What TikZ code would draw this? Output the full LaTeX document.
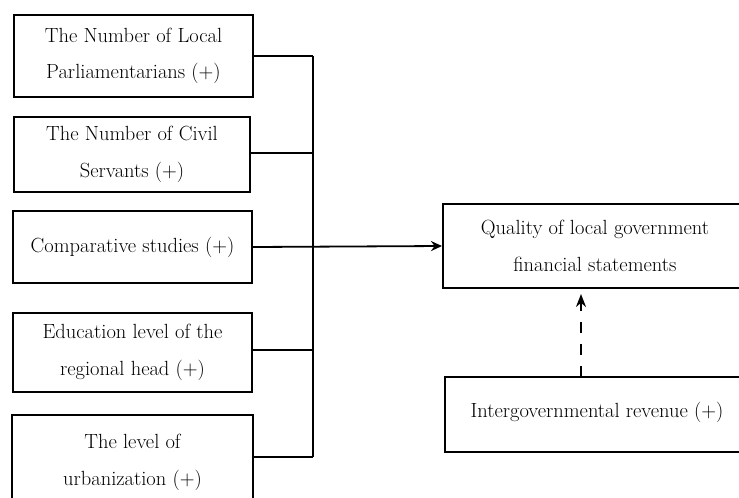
\documentclass[tikz,border=0pt]{standalone}
\usetikzlibrary{arrows.meta}
\begin{document}
\begin{tikzpicture}[x=1pt,y=-1pt,
  box/.style={draw,line width=2pt,align=center,inner sep=0pt,
    font=\fontsize{20.5}{36.5}\selectfont},
  conn/.style={line width=1.8pt},
  arr/.style={line width=1.8pt,-{Stealth[length=11pt,width=10pt]}},
  darr/.style={line width=2pt,dash pattern=on 11pt off 11pt,-{Stealth[length=13pt,width=10pt]}}]
\useasboundingbox (0,0) rectangle (739,498);
\clip (0,0) rectangle (739,498);
\node[box,minimum width=239pt,minimum height=82pt] (b1) at (133.5,56) {The Number of Local\\Parliamentarians (+)};
\node[box,minimum width=236pt,minimum height=75pt] (b2) at (132,154.5) {The Number of Civil\\Servants (+)};
\node[box,minimum width=239pt,minimum height=72pt] (b3) at (132.5,247) {Comparative studies (+)};
\node[box,minimum width=239pt,minimum height=79pt] (b4) at (132.5,352.5) {Education level of the\\regional head (+)};
\node[box,minimum width=241pt,minimum height=95pt] (b5) at (132.5,462.5) {The level of\\urbanization (+)};
\node[box,minimum width=304pt,minimum height=84pt] (q) at (595,246) {Quality of local government\\financial statements};
\node[box,minimum width=304pt,minimum height=75pt] (ig) at (597,414.5) {\raisebox{9pt}{Intergovernmental revenue (+)}};
\coordinate (bus) at (313,0);
\coordinate (top) at (313,56);
\coordinate (bot) at (313,457);
\coordinate (igtop) at (581,377);
\coordinate (qtip) at (581,294);
\draw[conn] (b1.east) -- (top);
\draw[conn] (b2.east |- 0,153) -- (313,153);
\draw[conn] (b4.east |- 0,350) -- (313,350);
\draw[conn] (b5.east |- 0,457) -- (bot);
\draw[conn] (top) -- (bot);
\draw[arr] (b3.east) -- (q.west);
\draw[darr] (igtop) -- (qtip);
\end{tikzpicture}
\end{document}
